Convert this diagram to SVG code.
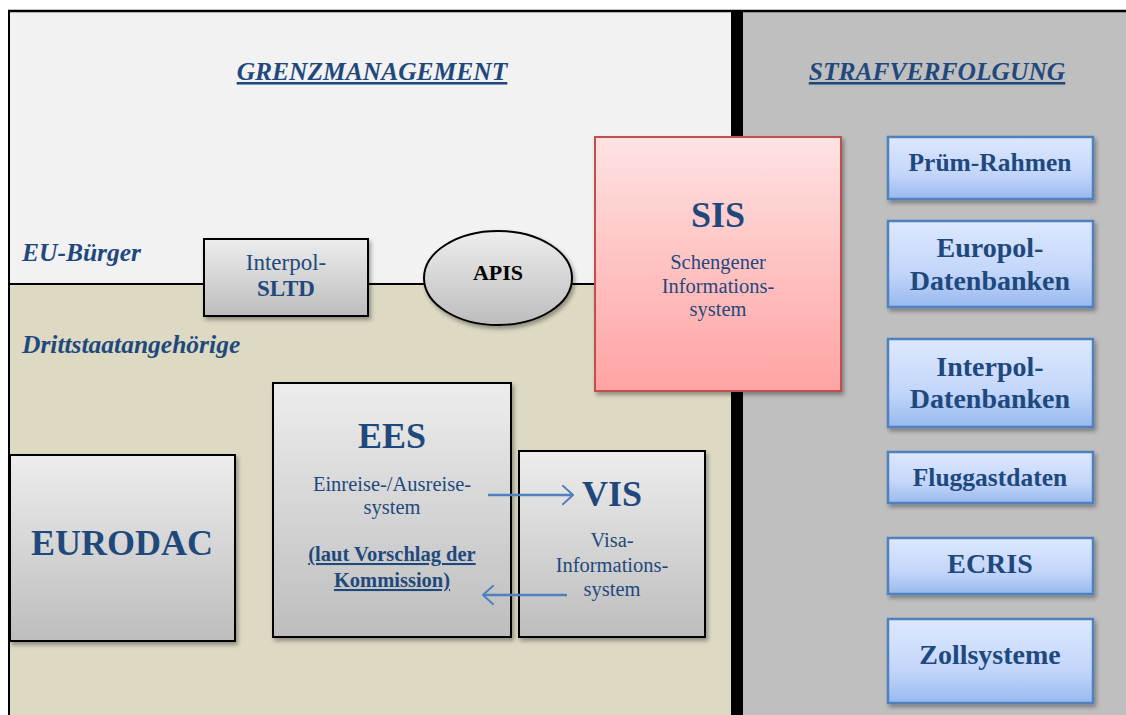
<svg xmlns="http://www.w3.org/2000/svg" width="1126" height="715" viewBox="0 0 1126 715">
<defs>
<linearGradient id="gGray" x1="0" y1="0" x2="0" y2="1"><stop offset="0" stop-color="#ededed"/><stop offset="1" stop-color="#bdbdbd"/></linearGradient>
<linearGradient id="gRed" x1="0" y1="0" x2="0" y2="1"><stop offset="0" stop-color="#ffe2e2"/><stop offset="1" stop-color="#ffa3a3"/></linearGradient>
<linearGradient id="gBlue" x1="0" y1="0" x2="0" y2="1"><stop offset="0" stop-color="#dde8fe"/><stop offset="0.6" stop-color="#c3d6fa"/><stop offset="1" stop-color="#98b9ee"/></linearGradient>
<filter id="sh" x="-10%" y="-10%" width="130%" height="130%"><feDropShadow dx="2" dy="3" stdDeviation="2" flood-color="#000" flood-opacity="0.35"/></filter>
<marker id="arr" viewBox="0 0 12 20" refX="11" refY="10" markerWidth="12" markerHeight="20" markerUnits="userSpaceOnUse" orient="auto"><path d="M0,0 L11,10 L0,20" fill="none" stroke="#4f81bd" stroke-width="2"/></marker>
<style>
text{font-family:"Liberation Serif","Times New Roman",serif;fill:#1f497d;text-anchor:middle}
.hd{font-weight:bold;font-style:italic;font-size:25.5px;text-decoration:underline}
.lane{font-weight:bold;font-style:italic;font-size:25.5px;text-anchor:start}
.gray{fill:url(#gGray);stroke:#000;stroke-width:2;filter:url(#sh)}
.blue{fill:url(#gBlue);stroke:#4f81bd;stroke-width:2.5;filter:url(#sh)}
.red{fill:url(#gRed);stroke:#c0504d;stroke-width:2;filter:url(#sh)}
.big{font-weight:bold;font-size:36px}
.sub{font-size:20.5px}
.bl{font-weight:bold;font-size:28px}
.bm{font-weight:bold;font-size:25.5px}
.conn{stroke:#4f81bd;stroke-width:2.5;fill:none}
</style>
</defs>
<g id="background">
<rect x="8" y="11" width="723" height="273" fill="#f2f2f2"/>
<rect x="8" y="284" width="723" height="431" fill="#ddd9c3"/>
<rect x="743" y="11" width="383" height="704" fill="#bfbfbf"/>
<rect x="731" y="11" width="12" height="704" fill="#000"/>
<line x1="8" y1="11" x2="1126" y2="11" stroke="#000" stroke-width="2.5"/>
<line x1="9" y1="10" x2="9" y2="715" stroke="#000" stroke-width="2"/>
<line x1="9" y1="284" x2="731" y2="284" stroke="#000" stroke-width="2"/>
<text class="hd" x="372" y="80">GRENZMANAGEMENT</text>
<text class="hd" x="937" y="80">STRAFVERFOLGUNG</text>
<text class="lane" x="22" y="261">EU-Bürger</text>
<text class="lane" x="22" y="353">Drittstaatangehörige</text>
</g>
<g id="interpol-sltd">
<rect class="gray" x="204" y="239" width="164" height="77"/>
<text class="sub" x="286" y="270" style="font-size:23px">Interpol-</text>
<text x="286" y="296" style="font-size:23px;font-weight:bold">SLTD</text>
</g>
<g id="apis">
<ellipse cx="498" cy="278" rx="74" ry="47" fill="url(#gGray)" stroke="#000" stroke-width="2" filter="url(#sh)"/>
<text x="498" y="280" style="font-size:22px;font-weight:bold;fill:#000">APIS</text>
</g>
<g id="sis">
<rect class="red" x="595" y="137" width="246" height="254"/>
<text class="big" x="718" y="227">SIS</text>
<text class="sub" x="718" y="269">Schengener</text>
<text class="sub" x="718" y="293">Informations-</text>
<text class="sub" x="718" y="316">system</text>
</g>
<g id="eurodac">
<rect class="gray" x="10" y="455" width="225" height="186"/>
<text class="big" x="122" y="555">EURODAC</text>
</g>
<g id="ees">
<rect class="gray" x="273" y="383" width="238" height="254"/>
<text class="big" x="392" y="448">EES</text>
<text class="sub" x="392" y="491">Einreise-/Ausreise-</text>
<text class="sub" x="392" y="514">system</text>
<text class="sub" x="392" y="561" style="font-weight:bold;text-decoration:underline">(laut Vorschlag der</text>
<text class="sub" x="392" y="587" style="font-weight:bold;text-decoration:underline">Kommission)</text>
</g>
<g id="vis">
<rect class="gray" x="519" y="451" width="186" height="186"/>
<text class="big" x="612" y="506">VIS</text>
<text class="sub" x="612" y="547">Visa-</text>
<text class="sub" x="612" y="572">Informations-</text>
<text class="sub" x="612" y="596">system</text>
</g>
<g id="pruem">
<rect class="blue" x="888" y="137" width="205" height="62"/>
<text class="bm" x="990" y="171">Prüm-Rahmen</text>
</g>
<g id="europol">
<rect class="blue" x="888" y="221" width="205" height="86"/>
<text class="bl" x="990" y="257">Europol-</text>
<text class="bl" x="990" y="290">Datenbanken</text>
</g>
<g id="interpol-db">
<rect class="blue" x="888" y="339" width="205" height="88"/>
<text class="bl" x="990" y="376">Interpol-</text>
<text class="bl" x="990" y="408">Datenbanken</text>
</g>
<g id="fluggastdaten">
<rect class="blue" x="888" y="452" width="205" height="51"/>
<text class="bm" x="990" y="486">Fluggastdaten</text>
</g>
<g id="ecris">
<rect class="blue" x="888" y="538" width="205" height="56"/>
<text class="bl" x="990" y="573">ECRIS</text>
</g>
<g id="zollsysteme">
<rect class="blue" x="888" y="619" width="205" height="84"/>
<text class="bl" x="990" y="664">Zollsysteme</text>
</g>
<g id="connectors">
<line class="conn" x1="488" y1="495" x2="573" y2="495" marker-end="url(#arr)"/>
<line class="conn" x1="567" y1="595" x2="483" y2="595" marker-end="url(#arr)"/>
</g>
</svg>
